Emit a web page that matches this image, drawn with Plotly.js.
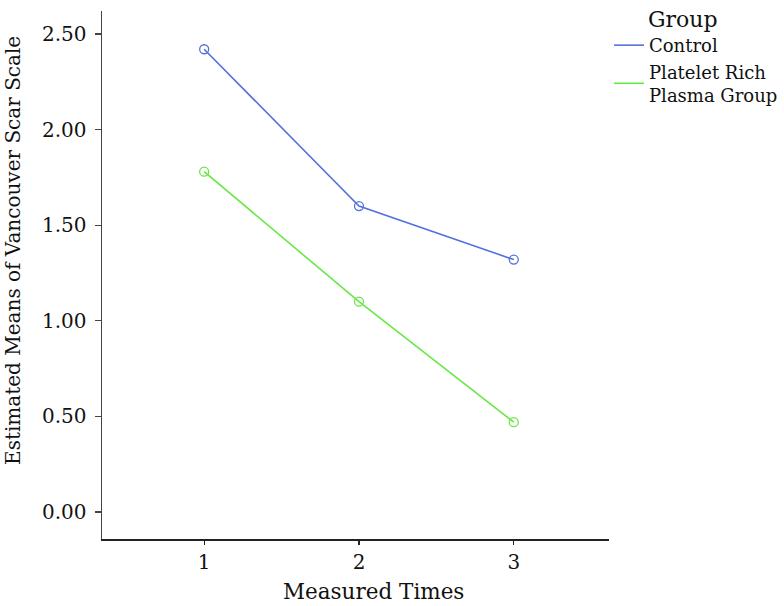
<!DOCTYPE html>
<html>
<head>
<meta charset="utf-8">
<script src="https://cdn.plot.ly/plotly-3.0.1.min.js"></script>
<style>html,body{margin:0;padding:0;background:#fff;}#chart{width:784px;height:606px;}</style>
</head>
<body>
<div id="chart"></div>
<script>
const measuredTimes = [1, 2, 3];
const controlMeans = [2.42, 1.60, 1.32];
const prpMeans = [1.78, 1.10, 0.47];
const seriesNames = ["Control", "Platelet Rich<br>Plasma Group"];
const yTickVals = [0, 0.5, 1, 1.5, 2, 2.5];
const xTickVals = [1, 2, 3];

const fontFam = "DejaVu Serif, serif";
const colControl = "rgb(84,113,224)";
const colPrp = "rgb(104,232,68)";

function lineTrace(y, name, col) {
  return {x: measuredTimes, y: y, name: name, type: "scatter", mode: "lines",
    line: {color: col, width: 1.6}};
}
function markerTrace(y, name, col) {
  return {x: measuredTimes, y: y, name: name, type: "scatter", mode: "markers", showlegend: false,
    marker: {symbol: "circle-open", size: 9, color: col, line: {width: 1.3, color: col}}};
}

const traces = [
  lineTrace(controlMeans, seriesNames[0], colControl),
  lineTrace(prpMeans, seriesNames[1], colPrp),
  markerTrace(controlMeans, seriesNames[0], colControl),
  markerTrace(prpMeans, seriesNames[1], colPrp)
];

const layout = {
  width: 784, height: 606,
  margin: {l: 102, r: 171, t: 11, b: 67},
  paper_bgcolor: "#fff", plot_bgcolor: "#fff",
  font: {family: fontFam, size: 18, color: "#111"},
  showlegend: true,
  legend: {
    xref: "container", yref: "container",
    x: 0.7768, xanchor: "left", y: 0.9555, yanchor: "top",
    font: {family: fontFam, size: 18, color: "#111"},
    tracegroupgap: 0, itemwidth: 30,
    bgcolor: "rgba(0,0,0,0)"
  },
  xaxis: {
    range: [0.34, 3.615],
    tickvals: xTickVals, ticktext: xTickVals.map(String),
    ticks: "outside", ticklen: 4, tickwidth: 1.3, tickcolor: "#222",
    showline: true, linecolor: "#222", linewidth: 1.5,
    showgrid: false, zeroline: false,
    tickfont: {family: fontFam, size: 20, color: "#111"}
  },
  yaxis: {
    range: [-0.141, 2.62],
    tickvals: yTickVals, tickformat: ".2f",
    ticks: "outside", ticklen: 6, tickwidth: 1.3, tickcolor: "#444",
    showline: true, linecolor: "#444", linewidth: 1.5,
    showgrid: false, zeroline: false,
    tickfont: {family: fontFam, size: 20, color: "#111"},
    ticklabelstandoff: 4
  },
  annotations: [
    {text: "Measured Times", xref: "paper", yref: "paper", x: 0.5346, y: -0.0985,
     xanchor: "center", yanchor: "middle", showarrow: false,
     font: {family: fontFam, size: 21.5, color: "#111"}},
    {text: "Estimated Means of Vancouver Scar Scale", xref: "paper", yref: "paper", x: -0.176, y: 0.547,
     xanchor: "center", yanchor: "middle", showarrow: false, textangle: -90,
     font: {family: fontFam, size: 20, color: "#111"}},
    {text: "Group", xref: "paper", yref: "paper", x: 1.072, y: 0.983,
     xanchor: "left", yanchor: "middle", showarrow: false,
     font: {family: fontFam, size: 22, color: "#111"}}
  ]
};

Plotly.newPlot("chart", traces, layout, {displayModeBar: false, staticPlot: true});
</script>
</body>
</html>
